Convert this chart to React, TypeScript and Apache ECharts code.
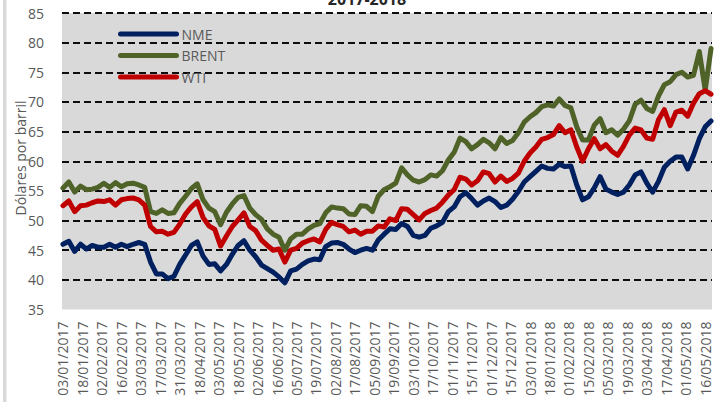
import React, { useEffect, useRef } from "react";
import * as echarts from "echarts";

// 34 date labels shown on the category axis, one every 10 trading days
const tickLabels = [
  "03/01/2017", "18/01/2017", "02/02/2017", "16/02/2017", "03/03/2017", "17/03/2017",
  "31/03/2017", "18/04/2017", "03/05/2017", "18/05/2017", "02/06/2017", "16/06/2017",
  "05/07/2017", "19/07/2017", "02/08/2017", "17/08/2017", "05/09/2017", "19/09/2017",
  "03/10/2017", "17/10/2017", "01/11/2017", "15/11/2017", "01/12/2017", "15/12/2017",
  "03/01/2018", "18/01/2018", "01/02/2018", "15/02/2018", "05/03/2018", "19/03/2018",
  "03/04/2018", "17/04/2018", "01/05/2018", "16/05/2018",
];
const N_DAYS = 334; // trading days on the axis
const LABEL_EVERY = 10;
const SAMPLE_STEP = 3; // values below are read every 3rd trading day

const nme = [
  46, 46.5, 44.8, 46, 45.2, 45.8, 45.5, 45.5, 46, 45.5,
  46, 45.6, 46, 46.3, 46, 43, 41, 41, 40.2, 40.6,
  42.6, 44.2, 45.8, 46.4, 44, 42.6, 42.7, 41.5, 42.6, 44.3,
  45.8, 46.6, 45, 43.9, 42.5, 41.9, 41.3, 40.5, 39.5, 41.5,
  41.8, 42.6, 43.2, 43.5, 43.4, 45.6, 46.2, 46.3, 46, 45.2,
  44.6, 45, 45.3, 45, 46.7, 47.7, 48.6, 48.5, 49.5, 49,
  47.5, 47.2, 47.5, 48.7, 49.1, 49.7, 51.5, 52.3, 54, 54.7,
  53.7, 52.6, 53.3, 53.8, 53.2, 52.2, 52.6, 53.6, 54.9, 56.5,
  57.4, 58.3, 59.2, 58.8, 58.7, 59.5, 59.1, 59.2, 56, 53.5,
  54, 55.5, 57.4, 55.3, 54.8, 54.4, 54.8, 56, 57.7, 58.2,
  56.3, 54.8, 56.6, 59, 60, 60.7, 60.7, 58.7, 61, 63.8,
  65.8, 66.8,
];

const brent = [
  55.5, 56.5, 54.8, 55.8, 55.2, 55.3, 55.6, 56.3, 55.6, 56.4,
  55.7, 56.2, 56.3, 56, 55.6, 51.5, 51.2, 51.8, 51.2, 51.3,
  52.9, 54.1, 55.4, 56.2, 53.5, 52.1, 51.5, 49.3, 51.4, 52.8,
  53.9, 54.2, 52.1, 51, 50.2, 48.6, 47.7, 47.2, 45, 46.9,
  47.7, 47.7, 48.6, 49.2, 49.5, 51.3, 52.3, 52.1, 52, 51.1,
  51, 52.5, 52.4, 51.5, 54.1, 55.2, 55.7, 56.3, 58.9, 57.7,
  56.8, 56.5, 56.9, 57.7, 57.5, 58.4, 60.2, 61.5, 63.9, 63.3,
  62.1, 62.8, 63.7, 63.1, 62.1, 64, 63, 63.5, 64.8, 66.6,
  67.5, 68.2, 69.2, 69.5, 69.3, 70.5, 69.4, 69, 65.8, 63.6,
  63.6, 66.1, 67.2, 64.8, 65.3, 64.4, 65.4, 66.8, 69.6, 70.3,
  68.9, 68.4, 71, 72.9, 73.4, 74.6, 75, 74.2, 74.5, 78.5,
  72, 79,
];

const wti = [
  52.5, 53.3, 51.5, 52.5, 52.6, 53, 53.3, 53.2, 53.5, 52.6,
  53.5, 53.7, 53.8, 53.5, 52.6, 49, 48.1, 48.2, 47.7, 48,
  49.4, 51.1, 52.3, 53.2, 50.5, 49.1, 48.5, 45.7, 47.4, 49,
  50.1, 51.3, 49, 48.3, 46.7, 45.8, 45, 45.2, 43, 45,
  45.3, 46.2, 46.6, 46.9, 46.4, 48.5, 49.7, 49.3, 49, 48.1,
  48.4, 47.7, 48.2, 48.2, 49.1, 48.9, 50.3, 50, 52, 51.9,
  51, 50.1, 51.2, 51.7, 52.1, 53.1, 54.3, 55.2, 57.3, 57,
  56, 56.7, 58.2, 57.9, 56.5, 57.5, 56.6, 57.1, 58, 60,
  61.4, 62.4, 63.7, 64, 64.5, 66, 64.8, 65.3, 62.4, 60,
  62.1, 63.8, 62.1, 62.8, 61.7, 61, 62.5, 64.4, 65.6, 65.3,
  63.9, 63.7, 67, 68.7, 66, 68.3, 68.6, 67.6, 69.8, 71.4,
  71.9, 71.3,
];

const seriesNames = ["NME", "BRENT", "WTI"];
const seriesColors = ["#002060", "#4f6228", "#c00000"];

const FONT = "'Open Sans', 'Noto Sans', sans-serif";
const TEXT_COLOR = "#595959";

function spread(vals: number[]): (number | null)[] {
  const arr: (number | null)[] = new Array(N_DAYS).fill(null);
  vals.forEach((v, k) => {
    const i = k * SAMPLE_STEP;
    if (i < N_DAYS) arr[i] = v;
  });
  return arr;
}

export default function App() {
  const ref = useRef<HTMLDivElement>(null);

  useEffect(() => {
    document.body.style.margin = "0";
    if (!ref.current) return;
    const chart = echarts.init(ref.current, undefined, { renderer: "svg" });

    const categories = Array.from({ length: N_DAYS }, (_, i) => String(i));
    const allVals = [nme, brent, wti];

    chart.setOption({
      animation: false,
      backgroundColor: "#ffffff",
      textStyle: { fontFamily: FONT },
      grid: {
        left: 62,
        right: 14,
        top: 13,
        bottom: 92.5,
        show: true,
        backgroundColor: "#d9d9d9",
        borderWidth: 0,
      },
      legend: {
        orient: "vertical",
        left: 113,
        top: 22,
        padding: 5,
        itemWidth: 56,
        itemHeight: 14,
        itemGap: 7.5,
        data: seriesNames,
        textStyle: { color: TEXT_COLOR, fontSize: 14, fontFamily: FONT },
        itemStyle: { opacity: 0, borderWidth: 0 },
        lineStyle: { width: 5, cap: "round" },
      },
      xAxis: {
        type: "category",
        data: categories,
        boundaryGap: true,
        axisLine: { show: false },
        axisTick: { show: false },
        splitLine: { show: false },
        axisLabel: {
          rotate: 90,
          margin: 12,
          color: TEXT_COLOR,
          fontSize: 14,
          fontFamily: FONT,
          interval: (index: number) => index % LABEL_EVERY === 0,
          formatter: (_v: string, index: number) =>
            index % LABEL_EVERY === 0 ? tickLabels[index / LABEL_EVERY] ?? "" : "",
        },
      },
      yAxis: {
        type: "value",
        min: 35,
        max: 85,
        interval: 5,
        axisLine: { show: false },
        axisTick: { show: false },
        axisLabel: { color: TEXT_COLOR, fontSize: 14, fontFamily: FONT, margin: 18 },
        splitLine: {
          show: true,
          showMinLine: false,
          lineStyle: { color: "#0d0d0d", width: 2, type: [7, 4] },
        },
      },
      graphic: [
        {
          type: "rect",
          shape: { x: 3, y: 0, width: 3.5, height: 402 },
          style: { fill: "#d9d9d9" },
          silent: true,
        },
        {
          type: "text",
          x: 367,
          y: -1,
          style: {
            text: "2017-2018",
            fontSize: 16,
            fontWeight: "bold",
            fontFamily: FONT,
            fill: "#262626",
            align: "center",
            verticalAlign: "middle",
          },
        },
        {
          type: "text",
          x: 20,
          y: 158,
          rotation: Math.PI / 2,
          style: {
            text: "Dólares por barril",
            fontSize: 14,
            fontFamily: FONT,
            fill: TEXT_COLOR,
            align: "center",
            verticalAlign: "middle",
          },
        },
      ],
      series: seriesNames.map((name, s) => ({
        name,
        type: "line",
        data: spread(allVals[s]),
        connectNulls: true,
        showSymbol: false,
        symbol: "none",
        color: seriesColors[s],
        lineStyle: { width: 5, color: seriesColors[s], cap: "round", join: "round" },
        emphasis: { disabled: true },
      })),
    });

    return () => chart.dispose();
  }, []);

  return <div ref={ref} style={{ width: 726, height: 402 }} />;
}
